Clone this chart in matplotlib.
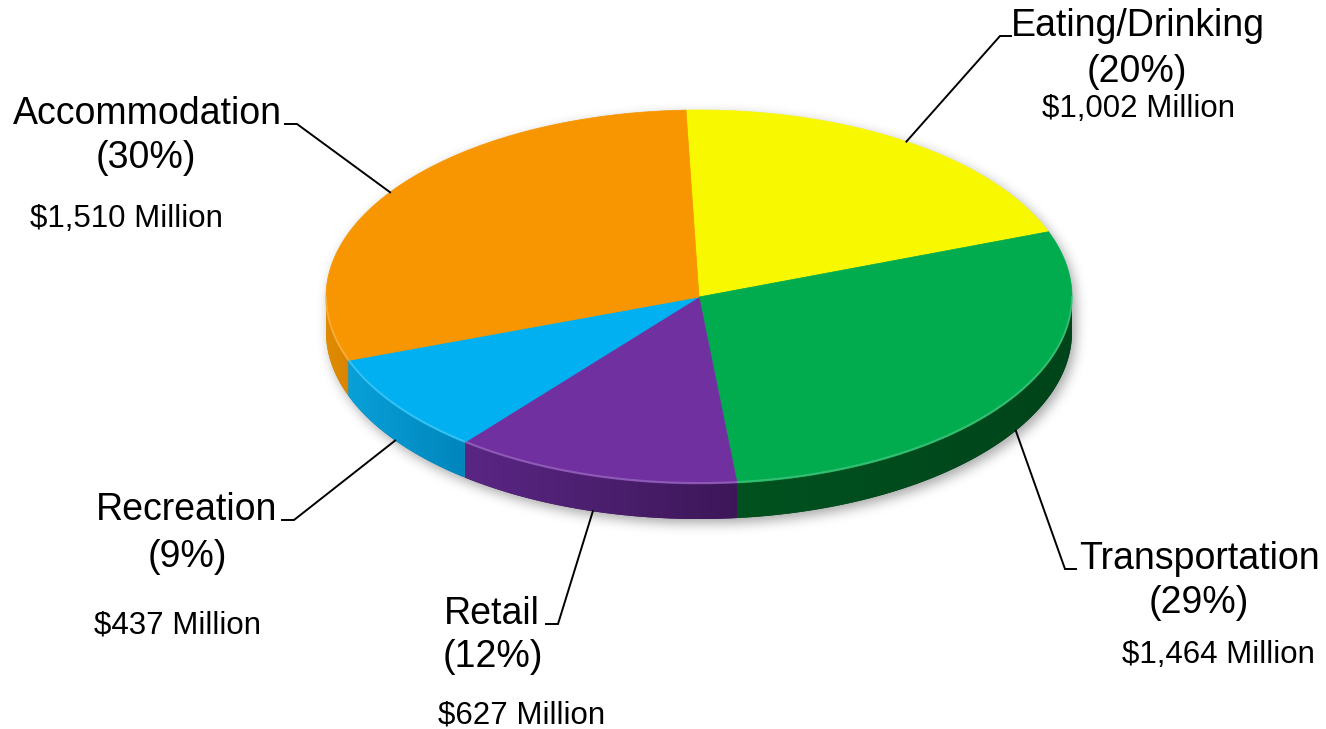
import numpy as np
import matplotlib
matplotlib.use("Agg")
import matplotlib.pyplot as plt
from matplotlib.patches import Polygon
from matplotlib.colors import to_rgb

# Visitor spending by category (millions of dollars)
categories = ["Eating/Drinking", "Transportation", "Retail", "Recreation", "Accommodation"]
values_musd = [1002, 1464, 627, 437, 1510]
percent_labels = ["20%", "29%", "12%", "9%", "30%"]
value_labels = ["$1,002 Million", "$1,464 Million", "$627 Million",
                "$437 Million", "$1,510 Million"]

top_colors = ["#F8F800", "#00AC4E", "#7030A0", "#00B0F0", "#F79600"]
side_light = ["#C8C800", "#00521F", "#5A2684", "#08A0D8", "#E08C00"]
side_dark = ["#B0B000", "#00441A", "#3C1758", "#0086BC", "#D88400"]

FONT = "Liberation Sans"

# Pie geometry in pixel space (y grows downward)
W, H = 1326, 729
cx, cy, rx, ry, depth = 699.0, 297.0, 373.0, 187.0, 35.0
start_angle = 92.0

fig = plt.figure(figsize=(W / 100, H / 100), dpi=100)
ax = fig.add_axes([0, 0, 1, 1])
ax.set_xlim(0, W)
ax.set_ylim(H, 0)
ax.axis("off")


def rim(t_deg, dy=0.0):
    t = np.radians(t_deg)
    return cx + rx * np.cos(t), cy - ry * np.sin(t) + dy


# slice boundaries, clockwise from the top
fracs = np.array(values_musd, dtype=float) / sum(values_musd)
sweeps = fracs * 360.0
bounds_start = start_angle - np.concatenate([[0], np.cumsum(sweeps)[:-1]])
bounds_end = bounds_start - sweeps

# soft drop shadow of the whole disc
yy, xx = np.mgrid[0:H, 0:W].astype(float)
sx, sy = 3.0, 4.0
inside_top = ((xx - cx - sx) / rx) ** 2 + ((yy - cy - sy) / ry) ** 2 <= 1
inside_bot = ((xx - cx - sx) / rx) ** 2 + ((yy - cy - sy - depth) / ry) ** 2 <= 1
inside_mid = (np.abs(xx - cx - sx) <= rx) & (yy >= cy + sy) & (yy <= cy + sy + depth)
mask = (inside_top | inside_bot | inside_mid).astype(float)
sigma = 6.0
ky = np.fft.fftfreq(H)[:, None]
kx = np.fft.fftfreq(W)[None, :]
g = np.exp(-2 * (np.pi * sigma) ** 2 * (kx ** 2 + ky ** 2))
blur = np.real(np.fft.ifft2(np.fft.fft2(mask) * g))
shadow = np.zeros((H, W, 4))
shadow[..., 3] = np.clip(blur, 0, 1) * 0.35
ax.imshow(shadow, extent=(0, W, H, 0), origin="upper", zorder=0, interpolation="bilinear")

# side walls (only the front half of the rim is visible)
for i in range(len(categories)):
    a0, a1 = bounds_end[i], bounds_start[i]
    for k in (-1, 0, 1):
        lo = max(a0, -180 + 360 * k)
        hi = min(a1, 0 + 360 * k)
        if hi <= lo:
            continue
        t = np.linspace(lo, hi, 200)
        x_top, y_top = rim(t)
        x_bot, y_bot = rim(t[::-1], depth)
        pts = np.column_stack([np.concatenate([x_top, x_bot]),
                               np.concatenate([y_top, y_bot])])
        poly = Polygon(pts, closed=True, facecolor=side_dark[i], edgecolor="none", zorder=1)
        ax.add_patch(poly)
        # horizontal shading across the wall
        c1, c2 = np.array(to_rgb(side_light[i])), np.array(to_rgb(side_dark[i]))
        xmin, xmax = pts[:, 0].min(), pts[:, 0].max()
        ymin, ymax = pts[:, 1].min(), pts[:, 1].max()
        s = np.linspace(0, 1, 256)[None, :, None]
        grad = c1[None, None, :] * (1 - s) + c2[None, None, :] * s
        grad = np.repeat(grad, 2, axis=0)
        im = ax.imshow(grad, extent=(xmin, xmax, ymax, ymin), origin="upper",
                       aspect="auto", zorder=1.5, interpolation="bilinear")
        im.set_clip_path(poly)

# top face
for i in range(len(categories)):
    t = np.linspace(bounds_start[i], bounds_end[i], 300)
    x, y = rim(t)
    pts = np.column_stack([np.concatenate([[cx], x]), np.concatenate([[cy], y])])
    ax.add_patch(Polygon(pts, closed=True, facecolor=top_colors[i],
                         edgecolor=top_colors[i], linewidth=0.5, zorder=2))
    # light bevel along the front rim
    lo, hi = max(bounds_end[i], -180), min(bounds_start[i], 0)
    if hi > lo:
        tt = np.linspace(lo, hi, 200)
        bx, by = rim(tt, -1.0)
        hl = np.clip(np.array(to_rgb(top_colors[i])) * 0.65 + 0.35, 0, 1)
        ax.plot(bx, by, color=hl, lw=1.4, alpha=0.6, zorder=2.5, solid_capstyle="butt")

# label layout: name (x, baseline), percent (x, baseline), value (x, baseline),
# leader elbow (x, y) and which way the short tail points
label_layout = {
    "Eating/Drinking": ((1138, 36), (1137, 82), (1139, 117), (1000, 36), "right"),
    "Transportation": ((1199, 569), (1199, 613), (1218, 663), (1065, 569), "right"),
    "Retail": ((492, 624), (493, 667), (522, 723), (558, 624), "left"),
    "Recreation": ((187, 520), (187, 567), (177, 634), (294, 520), "left"),
    "Accommodation": ((147, 124), (146, 168), (126, 227), (297, 124), "left"),
}

for i, name in enumerate(categories):
    (nx, ny), (px, py), (vx, vy), (ex, ey), side = label_layout[name]
    mid = (bounds_start[i] + bounds_end[i]) / 2
    m = (mid + 180) % 360 - 180
    ax_, ay_ = rim(mid, depth if -180 < m < 0 else 0.0)
    tail = ex + (11 if side == "right" else -12)
    ax.plot([ax_, ex, tail], [ay_, ey, ey], color="black", lw=1.4, zorder=3,
            solid_joinstyle="miter")
    ax.text(nx, ny, name, ha="center", va="baseline",
            fontsize=27, family=FONT, color="black", zorder=4)
    ax.text(px, py, f"({percent_labels[i]})", ha="center", va="baseline",
            fontsize=27, family=FONT, color="black", zorder=4)
    ax.text(vx, vy, value_labels[i], ha="center", va="baseline",
            fontsize=22.5, family=FONT, color="black", zorder=4)

fig.savefig("out.png", dpi=100, facecolor="white")
